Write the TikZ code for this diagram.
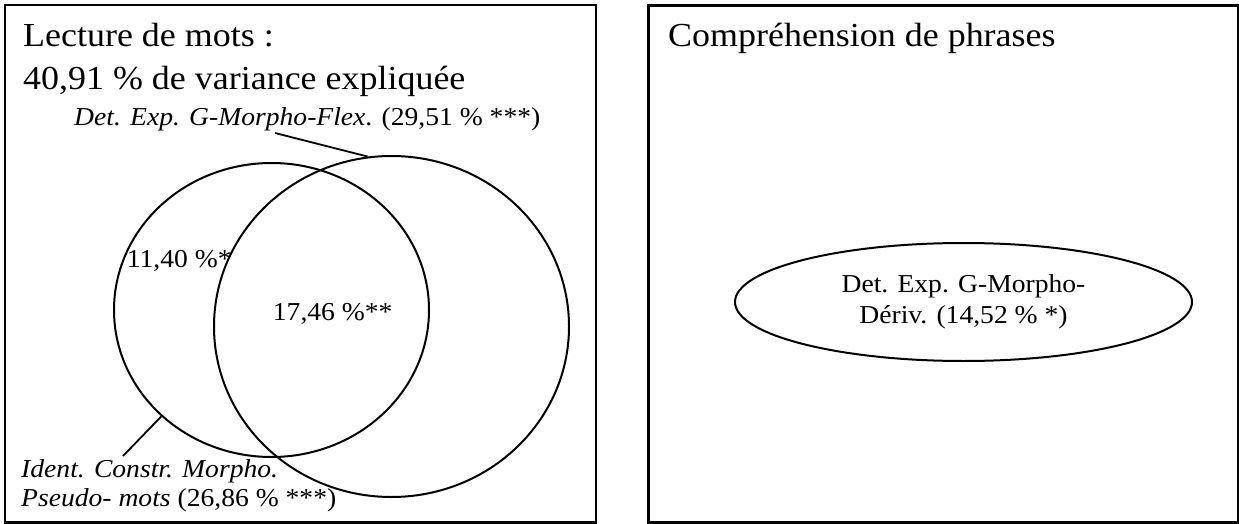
\documentclass[tikz,border=0pt]{standalone}
\usepackage{fontspec}
\setmainfont{Liberation Serif}[FakeStretch=1.07]
\usetikzlibrary{shapes.geometric}
\begin{document}
\begin{tikzpicture}[x=1pt,y=-1pt,
  frame/.style={draw, line width=2.2pt},
  venn/.style={draw, ellipse, line width=2pt, inner sep=0pt},
  big/.style={inner sep=0pt, anchor=base west, font=\fontsize{33.6}{40}\selectfont},
  small/.style={inner sep=0pt, anchor=base west, font=\fontsize{25.8}{31}\selectfont},
  leader/.style={line width=1.8pt}]
\useasboundingbox (0,0) rectangle (1239,524);
% frames
\draw[frame] (5,5) rectangle (596,522.5);
\draw[frame] (648.5,5.5) rectangle (1238,522.5);
% Venn ellipses
\node[venn, minimum width=315pt, minimum height=294pt] (ident) at (271.5,310) {};
\node[venn, minimum width=355pt, minimum height=341pt] (flex) at (391.5,326.5) {};
% left panel texts
\node[big] (t1a) at (23,47) {Lecture de mots :};
\node[big] (t1b) at (23,90) {40,91 \% de variance expliquée};
\node[small] (flexlab) at (74,125) {\textit{Det. Exp. G-Morpho-Flex}. (29,51 \% ***)};
\node[small] (onlyident) at (126.7,267) {11,40 \%*};
\node[small] (common) at (272.7,320.7) {17,46 \%**};
\node[small] (identa) at (21,477.5) {\textit{Ident. Constr. Morpho.}};
\node[small] (identb) at (21,506) {\textit{Pseudo- mots} (26,86 \% ***)};
% leaders
\coordinate (flexfoot) at (275,133);
\draw[leader] (flexfoot) -- (flex.98.2);
\coordinate (identfoot) at (123,456);
\draw[leader] (identfoot) -- (ident.224.6);
% right panel
\node[big] (t2) at (668,47) {Compréhension de phrases};
\node[venn, minimum width=457pt, minimum height=118pt, align=center,
      font=\fontsize{25.8}{31}\selectfont] (deriv) at (963.5,302)
      {Det. Exp. G-Morpho-\\Dériv. (14,52 \% *)};
\end{tikzpicture}
\end{document}
